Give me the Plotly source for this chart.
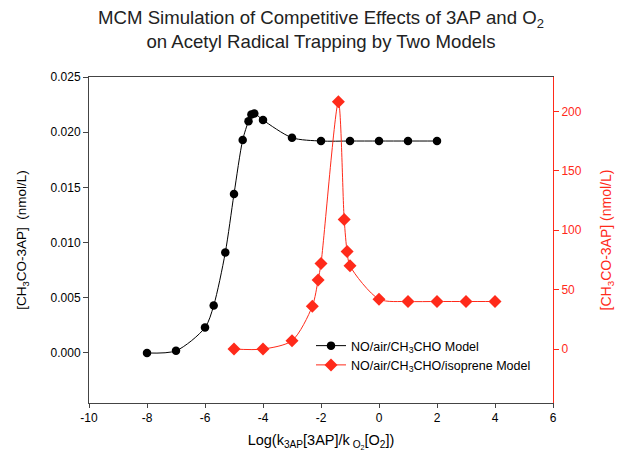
import plotly.graph_objects as go

# Data
black_x = [-8, -7, -6, -5.7, -5.3, -5.0, -4.7, -4.5, -4.4, -4.3, -4, -3, -2, -1, 0, 1, 2]
black_y = [0.0000, 0.0002, 0.0023, 0.0043, 0.0091, 0.0144, 0.0193, 0.0210, 0.0216, 0.0217,
           0.0211, 0.0195, 0.0192, 0.0192, 0.0192, 0.0192, 0.0192]
red_x = [-5, -4, -3, -2.3, -2.1, -2.0, -1.4, -1.2, -1.1, -1.0, 0, 1, 2, 3, 4]
red_y = [0, 0, 7, 36, 58, 72, 208, 109, 82, 70, 42, 40, 40, 40, 40]

x_ticks = [-10, -8, -6, -4, -2, 0, 2, 4, 6]
left_ticks = [0.000, 0.005, 0.010, 0.015, 0.020, 0.025]
right_ticks = [0, 50, 100, 150, 200]

FONT = "Liberation Sans, Arial, sans-serif"
RED = "#ff2a1a"

fig = go.Figure()
fig.add_trace(go.Scatter(
    x=black_x, y=black_y, mode="lines+markers", name="NO/air/CH<sub>3</sub>CHO Model",
    line=dict(color="black", width=1, shape="spline", smoothing=0.8),
    marker=dict(symbol="circle", size=8.5, color="black"),
))
fig.add_trace(go.Scatter(
    x=red_x, y=red_y, mode="lines+markers", name="NO/air/CH<sub>3</sub>CHO/isoprene Model",
    yaxis="y2",
    line=dict(color=RED, width=1, shape="spline", smoothing=0.8),
    marker=dict(symbol="diamond", size=10, color=RED),
))

fig.update_layout(
    width=624, height=461,
    margin=dict(l=81, r=79, t=69, b=66),
    paper_bgcolor="white", plot_bgcolor="white",
    font=dict(family=FONT, size=12, color="black"),
    title=dict(
        text="MCM Simulation of Competitive Effects of 3AP and O<sub>2</sub><br>on Acetyl Radical Trapping by Two Models",
        x=313/624, xanchor="center", y=1 - 16/461, yanchor="top",
        font=dict(size=18.6, color="#222222"),
    ),
    xaxis=dict(
        range=[-10, 6], tickvals=x_ticks, ticktext=[str(v) for v in x_ticks],
        showline=True, linecolor="#444444", linewidth=1, mirror=True,
        ticks="outside", ticklen=4, tickcolor="#444444", showgrid=False, zeroline=False,
        title=dict(text="Log(k<sub>3AP</sub>[3AP]/k<sub> O<sub>2</sub></sub>[O<sub>2</sub>])",
                   font=dict(size=14.5), standoff=10),
    ),
    yaxis=dict(
        range=[-0.00453, 0.025], tickvals=left_ticks, ticktext=[f"{v:.3f}" for v in left_ticks],
        showline=True, linecolor="#444444", linewidth=1,
        ticks="outside", ticklen=5, tickcolor="#444444", showgrid=False, zeroline=False,
        title=dict(text="[CH<sub>3</sub>CO-3AP]  (nmol/L)", font=dict(size=13.5), standoff=20),
    ),
    yaxis2=dict(
        range=[-45.4, 228.9], tickvals=right_ticks, ticktext=[str(v) for v in right_ticks],
        overlaying="y", side="right",
        showline=True, linecolor=RED, linewidth=1,
        ticks="outside", ticklen=5, tickcolor=RED, showgrid=False, zeroline=False,
        tickfont=dict(color=RED),
        title=dict(text="[CH<sub>3</sub>CO-3AP] (nmol/L)", font=dict(size=14, color=RED), standoff=20),
    ),
    legend=dict(
        x=(303 - 81) / 464, y=(395 - 323) / 326, xanchor="left", yanchor="top",
        bgcolor="rgba(0,0,0,0)", font=dict(size=12.5), tracegroupgap=0,
        itemwidth=30,
    ),
    showlegend=True,
)

fig.write_html("out.html")
